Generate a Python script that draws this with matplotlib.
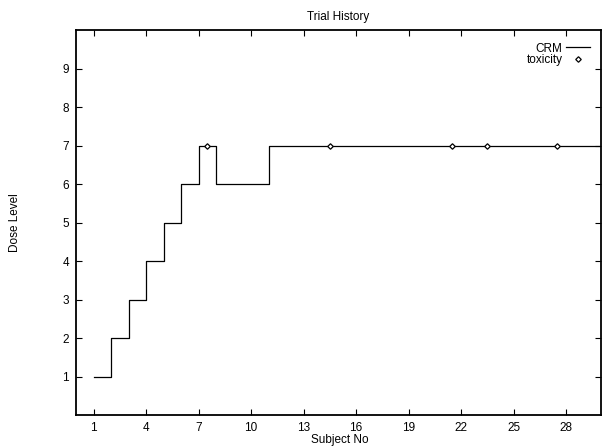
import matplotlib
matplotlib.use("Agg")
import matplotlib.pyplot as plt
import numpy as np

plt.rcParams['font.family'] = ['Liberation Sans', 'DejaVu Sans']
plt.rcParams['font.size'] = 8.5

# trial data
subjects = list(range(1, 31))
dose_level = [1, 2, 3, 4, 5, 6, 7, 6, 6, 6,
              7, 7, 7, 7, 7, 7, 7, 7, 7, 7,
              7, 7, 7, 7, 7, 7, 7, 7, 7, 7]
tox_x = [7.5, 14.5, 21.5, 23.5, 27.5]
tox_dose = [7, 7, 7, 7, 7]

x_ticks = list(range(1, 29, 3))
y_ticks = list(range(1, 10))

fig = plt.figure(figsize=(6.02, 4.46), dpi=100)
ax = fig.add_axes([76 / 602, (446 - 415.3) / 446, (601 - 76) / 602, (415.3 - 30) / 446])

ax.step(subjects, dose_level, where='post', color='black', lw=0.9, label='CRM')
ax.plot(tox_x, tox_dose, linestyle='none', marker='D', markersize=2.8,
        markerfacecolor='white', markeredgecolor='black', markeredgewidth=0.9,
        label='toxicity')

ax.set_xlim(0, 30)
ax.set_ylim(0, 10)
ax.set_xticks(x_ticks)
ax.set_yticks(y_ticks)
ax.tick_params(direction='in', length=4, width=0.8, top=True, right=True,
               labelsize=8.5, colors='black')
ax.tick_params(axis='x', pad=4.8)
ax.tick_params(axis='y', pad=5)
for s in ax.spines.values():
    s.set_linewidth(1.3)

ax.set_title('Trial History', fontsize=8.5, pad=7)
ax.set_xlabel('Subject No', fontsize=8.5)
ax.set_ylabel('Dose Level', fontsize=8.5)
ax.xaxis.set_label_coords((340 - 76) / 525, (415.3 - 440.5) / 385.3)
ax.xaxis.label.set_va('center')
ax.yaxis.set_label_coords((15 - 76) / 525, (415.3 - 223) / 385.3)
ax.yaxis.label.set_va('center')

ax.legend(loc='upper right', bbox_to_anchor=((590 - 76) / 525, (415.3 - 42.5) / 385.3),
          frameon=False, markerfirst=False, fontsize=8.5,
          handlelength=2.0, handletextpad=0.34, labelspacing=0.0,
          borderaxespad=0, borderpad=0)

fig.savefig('out.png', dpi=100)
